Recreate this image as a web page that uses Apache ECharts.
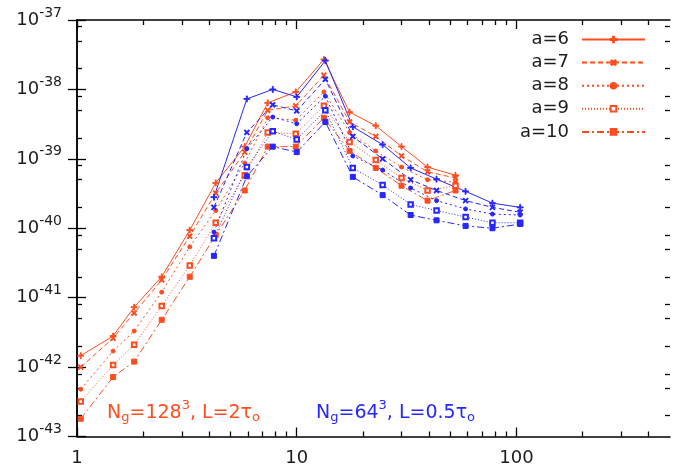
<!DOCTYPE html>
<html>
<head>
<meta charset="utf-8">
<script src="https://cdn.jsdelivr.net/npm/echarts@6/dist/echarts.min.js"></script>
<style>
  html, body { margin: 0; padding: 0; background: #fff; }
  #chart { width: 673px; height: 472px; }
</style>
</head>
<body>
<div id="chart"></div>
<script>
const orangeColor = '#ff4d1f';
const blueColor = '#2626ff';
const textColor = '#1c1c1c';
const font = 'DejaVu Sans';

const names = ['a=6', 'a=7', 'a=8', 'a=9', 'a=10'];

// N_g = 128^3, L = 2 tau_0
const xOrange = [1.04, 1.46, 1.82, 2.43, 3.26, 4.28, 5.8, 7.38, 9.9, 13.3, 17.4, 22.9, 30, 39.4, 52.8];
const orangeA6 = [1.46e-42, 2.8e-42, 7.3e-42, 2.0e-41, 9.4e-41, 4.5e-40, 1.5e-39, 6.4e-39, 9.2e-39, 2.7e-38, 4.7e-39, 3.0e-39, 1.5e-39, 7.6e-40, 5.8e-40];
const orangeA7 = [1.0e-42, 2.6e-42, 6.0e-42, 1.8e-41, 7.7e-41, 3.2e-40, 1.25e-39, 5.0e-39, 5.8e-39, 1.6e-38, 3.4e-39, 2.1e-39, 1.1e-39, 6.5e-40, 5.3e-40];
const orangeA8 = [4.8e-43, 1.7e-42, 3.3e-42, 1.2e-41, 5.4e-41, 1.8e-40, 8.7e-40, 3.9e-39, 3.6e-39, 9.2e-39, 2.4e-39, 1.3e-39, 7.6e-40, 5.0e-40, 4.6e-40];
const orangeA9 = [3.2e-43, 1.07e-42, 2.1e-42, 7.6e-42, 2.9e-41, 1.2e-40, 5.8e-40, 2.4e-39, 2.3e-39, 5.8e-39, 1.75e-39, 9.6e-40, 5.3e-40, 3.5e-40, 4.1e-40];
const orangeA10 = [1.8e-43, 7.2e-43, 1.2e-42, 4.8e-42, 2.0e-41, 8.0e-41, 3.5e-40, 1.5e-39, 1.5e-39, 3.9e-39, 1.3e-39, 7.4e-40, 4.1e-40, 2.5e-40, 3.5e-40];

// N_g = 64^3, L = 0.5 tau_0
const xBlue = [4.2, 5.93, 7.78, 10, 13.5, 18, 24.6, 33, 43.3, 58.7, 77.8, 104];
const blueA6 = [2.8e-40, 7.3e-39, 1.0e-38, 7.8e-39, 2.6e-38, 2.9e-39, 1.6e-39, 7.4e-40, 5.1e-40, 3.4e-40, 2.3e-40, 2.0e-40];
const blueA7 = [2.0e-40, 2.4e-39, 6.0e-39, 4.9e-39, 1.4e-38, 2.1e-39, 1.0e-39, 5.0e-40, 3.5e-40, 2.5e-40, 2.0e-40, 1.7e-40];
const blueA8 = [8.8e-41, 1.4e-39, 4.0e-39, 3.2e-39, 8.0e-39, 1.1e-39, 6.9e-40, 3.8e-40, 2.5e-40, 1.9e-40, 1.6e-40, 1.55e-40];
const blueA9 = [7.2e-41, 7.6e-40, 2.5e-39, 1.9e-39, 5.0e-39, 7.4e-40, 4.2e-40, 2.2e-40, 1.8e-40, 1.45e-40, 1.2e-40, 1.2e-40];
const blueA10 = [4.0e-41, 5.6e-40, 1.5e-39, 1.25e-39, 3.4e-39, 5.5e-40, 3.0e-40, 1.55e-40, 1.3e-40, 1.08e-40, 1.0e-40, 1.15e-40];

// axis ranges and ticks
const xMin = 1, xMax = 500;
const yMinExp = -43, yMaxExp = -37;
const xMajorTicks = [1, 10, 100];
const xMinorTicks = [2, 3, 4, 5, 6, 7, 8, 9, 20, 30, 40, 50, 60, 70, 80, 90, 200, 300, 400];
const yMajorExps = [-43, -42, -41, -40, -39, -38, -37];
const yMinorMantissas = [2, 5, 8];

const orangeSets = [orangeA6, orangeA7, orangeA8, orangeA9, orangeA10];
const blueSets = [blueA6, blueA7, blueA8, blueA9, blueA10];

const plusPath = 'path://M4.25,0H5.75V4.25H10V5.75H5.75V10H4.25V5.75H0V4.25H4.25Z';
const lineTypes = ['solid', [5, 3], [2, 3], [1, 2], [7, 3, 2, 3]];
const symbols = [plusPath, plusPath, 'circle', 'emptyRect', 'rect'];
const symbolRotates = [0, 45, 0, 0, 0];
const symbolSizes = [6, 6, 4, 4.5, 5];

function makeSeries(name, xs, ys, color, i) {
  return {
    name: name,
    type: 'line',
    data: xs.map((x, k) => [x, ys[k]]),
    symbol: symbols[i],
    symbolRotate: symbolRotates[i],
    symbolSize: symbolSizes[i],
    lineStyle: { color: color, width: 1, type: lineTypes[i] },
    itemStyle: { color: color, borderColor: color, borderWidth: 1 },
    emphasis: { disabled: true },
    z: 3
  };
}

let series = [];
for (let i = 0; i < 5; i++) series.push(makeSeries(names[i], xOrange, orangeSets[i], orangeColor, i));
for (let i = 0; i < 5; i++) series.push(makeSeries(names[i] + ' (64)', xBlue, blueSets[i], blueColor, i));

let yMinorPos = [];
for (let e = yMinExp; e < yMaxExp; e++) {
  for (const m of yMinorMantissas) yMinorPos.push(e + Math.log10(m));
}

// frame axes: plain value axes over log10 of the data range, used only for ticks and border
function frameAxis(position, min, max, ticks, len, showLine, label) {
  return {
    type: 'value',
    position: position,
    min: min,
    max: max,
    axisLine: { show: showLine, lineStyle: { color: '#000', width: 1.5 } },
    axisTick: { show: true, inside: true, length: len, customValues: ticks, lineStyle: { color: '#000', width: 1.3 } },
    axisLabel: label ? label : { show: false },
    splitLine: { show: false }
  };
}

const xMajorPos = xMajorTicks.map(Math.log10);
const xMinorPos = xMinorTicks.map(Math.log10);
const xLogMax = Math.log10(xMax);

const xLabel = {
  show: true, customValues: xMajorPos, margin: 13,
  color: textColor, fontFamily: font, fontSize: 18,
  formatter: v => String(Math.round(Math.pow(10, v)))
};
const yLabel = {
  show: true, customValues: yMajorExps, margin: 15,
  formatter: v => '{b|10}{s|' + v + '}',
  rich: {
    b: { color: textColor, fontFamily: font, fontSize: 18 },
    s: { color: textColor, fontFamily: font, fontSize: 14, padding: [0, 0, 14, 0] }
  }
};

const chart = echarts.init(document.getElementById('chart'), null, { renderer: 'canvas' });

const option = {
  animation: false,
  backgroundColor: '#fff',
  grid: { left: 77, right: 3, top: 20, bottom: 35.5, containLabel: false },
  xAxis: [
    { type: 'log', min: xMin, max: xMax, show: false },
    frameAxis('bottom', 0, xLogMax, xMajorPos, 9, true, xLabel),
    frameAxis('bottom', 0, xLogMax, xMinorPos, 5, false),
    frameAxis('top', 0, xLogMax, xMajorPos, 9, true),
    frameAxis('top', 0, xLogMax, xMinorPos, 5, false)
  ],
  yAxis: [
    { type: 'log', min: Math.pow(10, yMinExp), max: Math.pow(10, yMaxExp), show: false },
    frameAxis('left', yMinExp, yMaxExp, yMajorExps, 9, true, yLabel),
    frameAxis('left', yMinExp, yMaxExp, yMinorPos, 5, false),
    frameAxis('right', yMinExp, yMaxExp, yMajorExps, 9, true),
    frameAxis('right', yMinExp, yMaxExp, yMinorPos, 5, false)
  ],
  legend: {
    data: names,
    orient: 'vertical',
    align: 'right',
    right: 27,
    top: 30.5,
    padding: 0,
    itemWidth: 63,
    itemHeight: 7,
    itemGap: 5.1,
    selectedMode: false,
    textStyle: { color: textColor, fontFamily: font, fontSize: 18, padding: [0, 8, 0, 0] }
  },
  graphic: [
    {
      type: 'text', x: 107, y: 413, z: 10,
      style: {
        text: '{n|N}{sub|g}{n|=128}{sup|3}{n|, L=2τ}{sub|o}',
        fill: orangeColor, verticalAlign: 'middle',
        rich: {
          n: { fontFamily: font, fontSize: 19 },
          sub: { fontFamily: font, fontSize: 13, padding: [10, 0, 0, 0] },
          sup: { fontFamily: font, fontSize: 13, padding: [0, 0, 14, 0] }
        }
      }
    },
    {
      type: 'text', x: 316, y: 413, z: 10,
      style: {
        text: '{n|N}{sub|g}{n|=64}{sup|3}{n|, L=0.5τ}{sub|o}',
        fill: blueColor, verticalAlign: 'middle',
        rich: {
          n: { fontFamily: font, fontSize: 19 },
          sub: { fontFamily: font, fontSize: 13, padding: [10, 0, 0, 0] },
          sup: { fontFamily: font, fontSize: 13, padding: [0, 0, 14, 0] }
        }
      }
    }
  ],
  series: series
};

chart.setOption(option);
</script>
</body>
</html>
